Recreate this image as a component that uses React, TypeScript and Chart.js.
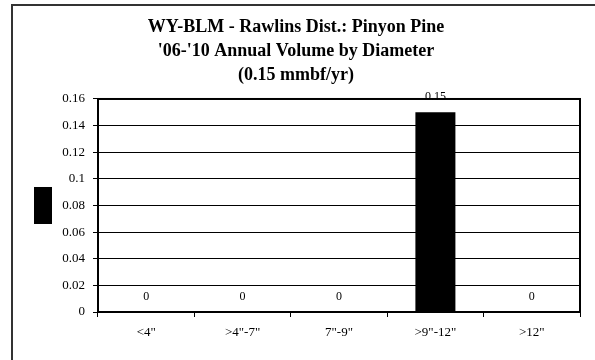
import React, { useEffect, useRef } from "react";
import { Chart, registerables } from "chart.js";

Chart.register(...registerables);

const categories = ['<4"', '>4"-7"', '7"-9"', '>9"-12"', '>12"'];
const volumes = [0, 0, 0, 0.15, 0];
const titleLines = [
  "WY-BLM - Rawlins Dist.: Pinyon Pine",
  "'06-'10 Annual Volume by Diameter",
  "(0.15 mmbf/yr)",
];
const yMin = 0;
const yMax = 0.16;
const yStep = 0.02;

const SERIF = '"Liberation Serif", "Times New Roman", serif';

const framePlugin = {
  id: "frame",
  beforeDraw(chart: any) {
    const { ctx, width, height } = chart;
    ctx.save();
    ctx.fillStyle = "#fff";
    ctx.fillRect(0, 0, width, height);
    ctx.strokeStyle = "#333";
    ctx.lineWidth = 2;
    ctx.strokeRect(12, 5, width + 50, height + 50);
    ctx.restore();
  },
  afterDraw(chart: any) {
    const { ctx, chartArea } = chart;
    ctx.save();
    ctx.strokeStyle = "#000";
    ctx.lineWidth = 2;
    ctx.strokeRect(chartArea.left, chartArea.top, chartArea.right - chartArea.left, chartArea.bottom - chartArea.top);
    // legend key box (no label text)
    const cy = (chartArea.top + chartArea.bottom) / 2;
    ctx.fillStyle = "#000";
    ctx.fillRect(chartArea.left - 64, cy - 18.5, 18, 37);
    ctx.restore();
  },
};

const valueLabelPlugin = {
  id: "valueLabels",
  afterDatasetsDraw(chart: any) {
    const { ctx } = chart;
    const meta = chart.getDatasetMeta(0);
    const data = chart.data.datasets[0].data as number[];
    ctx.save();
    ctx.fillStyle = "#000";
    ctx.font = `12px ${SERIF}`;
    ctx.textAlign = "center";
    ctx.textBaseline = "middle";
    meta.data.forEach((bar: any, i: number) => {
      ctx.fillText(String(data[i]), bar.x, bar.y - 15);
    });
    ctx.restore();
  },
};

export default function App() {
  const ref = useRef<HTMLCanvasElement>(null);

  useEffect(() => {
    if (!ref.current) return;
    const chart = new Chart(ref.current, {
      type: "bar",
      data: {
        labels: categories,
        datasets: [
          {
            label: "",
            data: volumes,
            backgroundColor: "#000",
            borderWidth: 0,
            barPercentage: 0.415,
            categoryPercentage: 1,
          },
        ],
      },
      options: {
        responsive: false,
        animation: false,
        devicePixelRatio: 1,
        layout: { padding: { left: 12, right: 15, top: 5, bottom: 0 } },
        plugins: {
          legend: { display: false },
          tooltip: { enabled: false },
          title: {
            display: true,
            text: titleLines,
            color: "#000",
            font: { family: SERIF, size: 18, weight: "bold", lineHeight: 1.333 },
            padding: { top: 10, bottom: 12 },
          },
        },
        scales: {
          x: {
            grid: {
              display: true,
              drawOnChartArea: false,
              offset: true,
              tickLength: 5,
              color: "#000",
            },
            border: { display: true, color: "#000", width: 2 },
            ticks: { color: "#000", padding: 8, font: { family: SERIF, size: 13 } },
            afterFit(scale: any) {
              scale.height = 48;
            },
          },
          y: {
            min: yMin,
            max: yMax,
            ticks: {
              stepSize: yStep,
              color: "#000",
              padding: 8,
              font: { family: SERIF, size: 13 },
              callback: (v: any) => String(parseFloat(Number(v).toFixed(2))),
            },
            grid: { color: "#000", lineWidth: 1, tickLength: 5 },
            border: { display: true, color: "#000", width: 2 },
            afterFit(scale: any) {
              scale.width = 86;
            },
          },
        },
      },
      plugins: [framePlugin, valueLabelPlugin],
    });
    return () => chart.destroy();
  }, []);

  return (
    <div style={{ position: "absolute", left: 0, top: 0, width: 595, height: 360, background: "#fff" }}>
      <canvas ref={ref} width={595} height={360} style={{ display: "block" }} />
    </div>
  );
}
